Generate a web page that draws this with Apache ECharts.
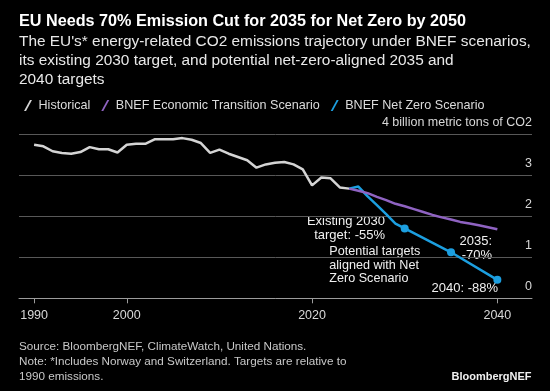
<!DOCTYPE html>
<html>
<head>
<meta charset="utf-8">
<script src="https://cdn.jsdelivr.net/npm/echarts@6/dist/echarts.min.js"></script>
<style>
html,body{margin:0;padding:0;background:#000;}
#chart{width:550px;height:391px;}
</style>
</head>
<body>
<div id="chart"></div>
<script>
// ---- data ----
var historicalYears = [1990,1991,1992,1993,1994,1995,1996,1997,1998,1999,2000,2001,2002,2003,2004,2005,2006,2007,2008,2009,2010,2011,2012,2013,2014,2015,2016,2017,2018,2019,2020,2021,2022,2023,2024];
var historicalValues = [3.74,3.70,3.58,3.54,3.52,3.56,3.68,3.63,3.63,3.55,3.74,3.76,3.76,3.87,3.87,3.87,3.90,3.86,3.78,3.54,3.62,3.52,3.44,3.36,3.18,3.26,3.30,3.32,3.26,3.14,2.75,2.94,2.92,2.70,2.67];
var etsYears = [2024,2025,2026,2027,2028,2029,2030,2031,2032,2033,2034,2035,2036,2037,2038,2039,2040];
var etsValues = [2.67,2.62,2.56,2.47,2.39,2.30,2.24,2.17,2.10,2.03,1.97,1.92,1.86,1.82,1.78,1.73,1.68];
var nzsYears = [2024,2025,2026,2027,2028,2029,2030,2035,2040];
var nzsValues = [2.67,2.72,2.48,2.27,2.05,1.82,1.70,1.12,0.45];
var targetYears = [2030,2035,2040];
var xTickLabels = [1990,2000,2020,2040];
var yTicks = [0,1,2,3,4];
var yUnitLabel = '4 billion metric tons of CO2';
var seriesNames = ['Historical','BNEF Economic Transition Scenario','BNEF Net Zero Scenario'];

var FONT = "'Liberation Sans', Arial, Helvetica, sans-serif";
var GRAY = '#d4d4d4', PURPLE = '#8f63c2', BLUE = '#1c9fe0';

function pairs(xs, ys) { return xs.map(function(x,i){ return [x, ys[i]]; }); }
var nzsData = nzsYears.map(function(x,i){
  var isTarget = targetYears.indexOf(x) >= 0;
  return isTarget ? {value:[x,nzsValues[i]], symbol:'circle', symbolSize:8} : {value:[x,nzsValues[i]], symbol:'none'};
});

var slash = 'path://M0,11 L6,0 L8,0 L2,11 Z';

var chart = echarts.init(document.getElementById('chart'), null, {renderer:'canvas'});
chart.setOption({
  backgroundColor:'#000',
  animation:false,
  textStyle:{fontFamily:FONT},
  grid:{left:19, right:18, top:134, bottom:92.7, containLabel:false},
  legend:{
    left:19, top:94, itemWidth:11, itemHeight:11, itemGap:11,
    textStyle:{color:'#dcdcdc', fontSize:12.6, fontFamily:FONT},
    data:[{name:seriesNames[0], icon:slash},{name:seriesNames[1], icon:slash},{name:seriesNames[2], icon:slash}]
  },
  xAxis:{
    type:'value', min:1988.37, max:2043.74,
    axisLine:{show:true, lineStyle:{color:'#9c9c9c', width:1}},
    axisTick:{show:true, length:5, lineStyle:{color:'#9c9c9c'}, customValues:xTickLabels},
    axisLabel:{color:'#d8d8d8', fontSize:12.5, margin:11, fontFamily:FONT, customValues:xTickLabels, formatter:function(v){return String(v);}},
    splitLine:{show:false}
  },
  yAxis:{
    type:'value', position:'right', min:0, max:4, interval:1,
    axisLine:{show:false}, axisTick:{show:false},
    axisLabel:{inside:true, margin:0, color:'#d8d8d8', fontSize:12.5, fontFamily:FONT, verticalAlign:'bottom', padding:[0,0,5,0],
      formatter:function(v){ return v===4 ? yUnitLabel : String(v); }},
    splitLine:{show:true, lineStyle:{color:'#585858', width:1}}
  },
  series:[
    {name:seriesNames[0], type:'line', data:pairs(historicalYears, historicalValues), symbol:'none', lineStyle:{color:GRAY, width:2.5}, itemStyle:{color:GRAY}, z:3},
    {name:seriesNames[2], type:'line', data:nzsData, showSymbol:true, symbol:'none', lineStyle:{color:BLUE, width:2.5}, itemStyle:{color:BLUE}, z:4},
    {name:seriesNames[1], type:'line', data:pairs(etsYears, etsValues), symbol:'none', lineStyle:{color:PURPLE, width:2.5}, itemStyle:{color:PURPLE}, z:5}
  ],
  graphic:[
    {type:'text', x:19, y:13, style:{text:'EU Needs 70% Emission Cut for 2035 for Net Zero by 2050', fill:'#ffffff', font:'bold 16.2px '+FONT, verticalAlign:'top', lineHeight:16.2}},
    {type:'text', x:19, y:32.5, style:{text:"The EU's* energy-related CO2 emissions trajectory under BNEF scenarios,\nits existing 2030 target, and potential net-zero-aligned 2035 and\n2040 targets", fill:'#e8e8e8', font:'15.4px '+FONT, verticalAlign:'top', lineHeight:19}},
    {type:'text', x:385, y:228.4, style:{text:'Existing 2030\ntarget: -55%', fill:'#f0f0f0', font:'13px '+FONT, align:'right', verticalAlign:'middle', lineHeight:13.5}},
    {type:'text', x:329.3, y:265.5, style:{text:'Potential targets\naligned with Net\nZero Scenario', fill:'#f0f0f0', font:'12.6px '+FONT, align:'left', verticalAlign:'middle', lineHeight:13.5}},
    {type:'text', x:492, y:248, style:{text:'2035:\n-70%', fill:'#f0f0f0', font:'13px '+FONT, align:'right', verticalAlign:'middle', lineHeight:14}},
    {type:'text', x:498, y:288, style:{text:'2040: -88%', fill:'#f0f0f0', font:'13px '+FONT, align:'right', verticalAlign:'middle'}},
    {type:'text', x:19, y:339.6, style:{text:'Source: BloombergNEF, ClimateWatch, United Nations.\nNote: *Includes Norway and Switzerland. Targets are relative to\n1990 emissions.', fill:'#c8c8c8', font:'11.7px '+FONT, verticalAlign:'top', lineHeight:14.7}},
    {type:'text', x:531.5, y:376.5, style:{text:'BloombergNEF', fill:'#f0f0f0', font:'bold 11px '+FONT, align:'right', verticalAlign:'middle'}}
  ]
});
</script>
</body>
</html>
